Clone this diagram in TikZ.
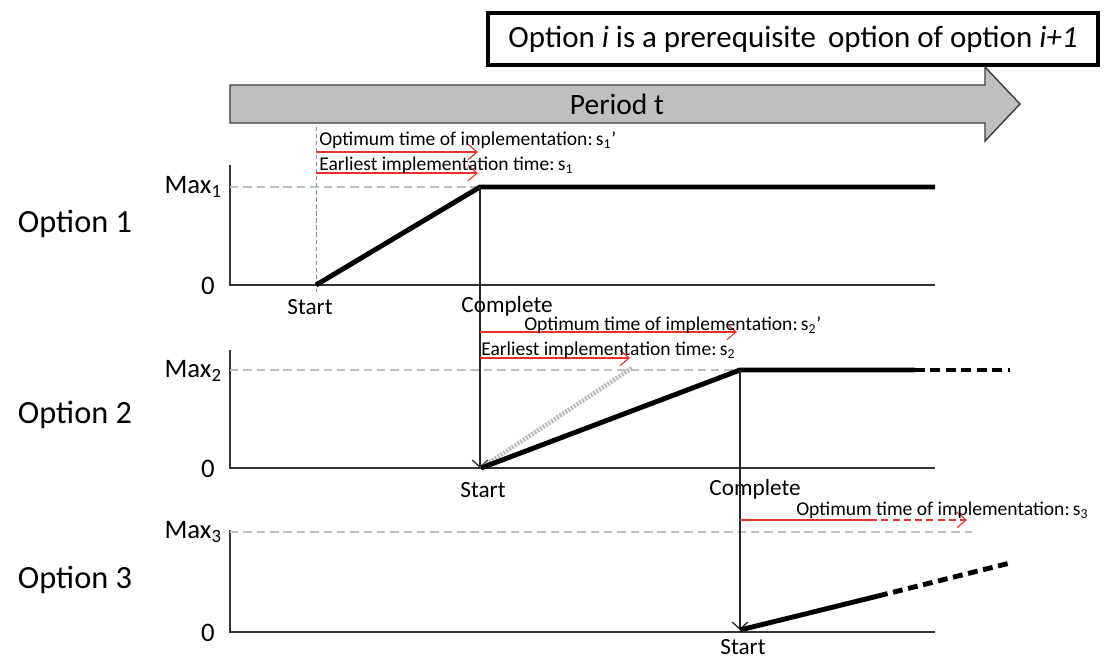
\documentclass[tikz,border=0pt]{standalone}
\usepackage{fontspec}
\setmainfont{Carlito}
\usetikzlibrary{arrows.meta}
\definecolor{optred}{RGB}{228,52,42}
\definecolor{maxgray}{RGB}{192,192,192}
\definecolor{startblue}{RGB}{110,140,195}
\definecolor{periodfill}{RGB}{191,191,191}
\definecolor{periodedge}{RGB}{60,60,60}
\begin{document}
\begin{tikzpicture}[x=0.025cm,y=-0.025cm,
    optlabel/.style={font=\fontsize{23}{26}\selectfont},
    axlabel/.style={anchor=east,inner sep=0pt,font=\fontsize{19}{22}\selectfont},
    evlabel/.style={inner sep=1pt,font=\fontsize{16.5}{19}\selectfont},
    timelabel/.style={anchor=west,inner sep=0pt,font=\fontsize{13.9}{16}\selectfont},
    axis/.style={line width=0.9pt,black!80},
    maxline/.style={maxgray,dashed,dash pattern=on 6pt off 3.5pt,line width=0.8pt},
    value/.style={line width=3.5pt},
    valuedash/.style={line width=3.5pt,dash pattern=on 7pt off 4pt},
    redarrow/.style={optred,line width=0.8pt,-{Straight Barb[length=6.5pt,width=11pt]}},
    donearrow/.style={line width=0.9pt,black!85,-{Straight Barb[length=5pt,width=11pt]}}]
  \useasboundingbox (0,0) rectangle (1116,659);
  \node[draw,line width=2.8pt,minimum width=15.25cm,minimum height=1.3cm,
    font=\fontsize{22}{26}\selectfont] (title) at (793,39)
    {Option \textit{i} is a prerequisite\, option of option \textit{i+1}};
  \draw[fill=periodfill,draw=periodedge,line width=1pt]
    (230,85) -- (985,85) -- (985,67) -- (1020,104) -- (985,141) -- (985,123) -- (230,123) -- cycle;
  \node[font=\fontsize{21}{24}\selectfont] (period) at (617,104) {Period t};

  \coordinate (top1) at (230,165);
  \coordinate (o1) at (230,285);
  \coordinate (end1) at (935,285);
  \coordinate (s1) at (316,285);
  \coordinate (c1) at (480,187);
  \coordinate (f1) at (935,187);
  \node[optlabel] (opt1) at (75,224) {Option 1};
  \node[axlabel] (max1) at (222,187) {Max\textsubscript{1}};
  \node[axlabel] (zero1) at (215,286) {0};
  \node[evlabel] (start1) at (310,307) {Start};
  \node[evlabel] (done1) at (507,306) {Complete};
  \draw[axis] (top1) -- (o1) -- (end1);
  \draw[maxline] (230,187) -- (c1);
  \draw[startblue,dashed,dash pattern=on 3pt off 2pt,line width=0.6pt] (316,127) -- (316,292);
  \draw[value] (s1) -- (c1) -- (f1);
  \draw[redarrow] (316,152) -- (478,152);
  \draw[redarrow] (316,173) -- (478,173);
  \node[timelabel] (opt1t) at (319,140) {Optimum time of implementation:\,s\textsubscript{1}’};
  \node[timelabel] (ear1t) at (319,165) {Earliest implementation time:\,s\textsubscript{1}};

  \coordinate (top2) at (230,350);
  \coordinate (o2) at (230,468);
  \coordinate (end2) at (935,468);
  \coordinate (s2) at (481,468);
  \coordinate (c2) at (740,370);
  \coordinate (f2) at (915,370);
  \coordinate (g2) at (1010,370);
  \node[optlabel] (opt2) at (75,415) {Option 2};
  \node[axlabel] (max2) at (222,371) {Max\textsubscript{2}};
  \node[axlabel] (zero2) at (215,469) {0};
  \node[evlabel] (start2) at (483,490) {Start};
  \node[evlabel] (done2) at (755,489) {Complete};
  \draw[axis] (top2) -- (o2) -- (end2);
  \draw[maxline] (230,370) -- (c2);
  \draw[donearrow] (c1) -- (c1 |- s2);
  \draw[gray!55,line width=3.2pt,dash pattern=on 1.4pt off 1pt] (s2) -- (632,368);
  \draw[value] (s2) -- (c2) -- (f2);
  \draw[valuedash] (f2) -- (g2);
  \draw[redarrow] (480,332) -- (737,332);
  \draw[redarrow] (480,358) -- (630,358);
  \node[timelabel] (opt2t) at (524,325) {Optimum time of implementation:\,s\textsubscript{2}’};
  \node[timelabel] (ear2t) at (481,350) {Earliest implementation time:\,s\textsubscript{2}};

  \coordinate (top3) at (230,530);
  \coordinate (o3) at (230,632);
  \coordinate (end3) at (935,632);
  \coordinate (s3) at (740,630);
  \coordinate (m3) at (878,596);
  \coordinate (g3) at (1010,563);
  \node[optlabel] (opt3) at (75,580) {Option 3};
  \node[axlabel] (max3) at (222,532) {Max\textsubscript{3}};
  \node[axlabel] (zero3) at (215,633) {0};
  \node[evlabel,inner sep=0pt] (start3) at (743,647) {Start};
  \draw[axis] (top3) -- (o3) -- (end3);
  \draw[maxline] (230,532) -- (972,532);
  \draw[donearrow] (c2) -- (c2 |- s3);
  \draw[value] (s3) -- (m3);
  \draw[valuedash] (m3) -- (g3);
  \draw[optred,line width=0.8pt] (740,520) -- (870,520);
  \draw[redarrow,dashed,dash pattern=on 5pt off 3pt] (870,520) -- (967,520);
  \node[timelabel] (opt3t) at (796,510) {Optimum time of implementation:\,s\textsubscript{3}};
\end{tikzpicture}
\end{document}
